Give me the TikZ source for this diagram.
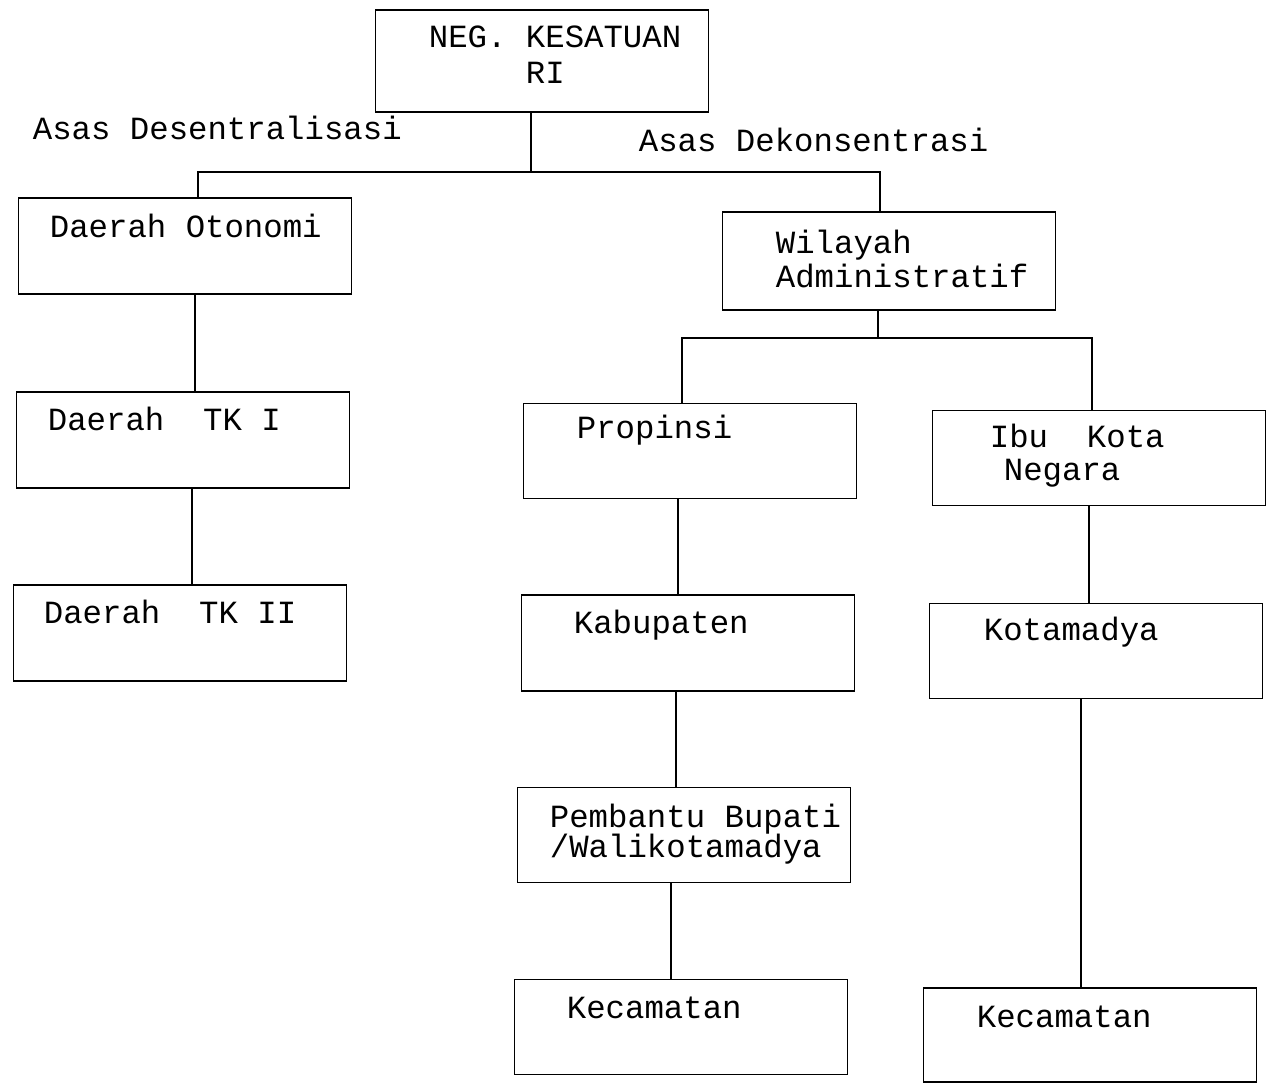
\documentclass[tikz,border=0pt]{standalone}
\usepackage{fontspec}
\setmainfont{Liberation Mono}
\usepackage{tikz}

\begin{document}
\begin{tikzpicture}[x=0.01cm, y=-0.01cm, line width=0.5pt,
    box/.style={draw, minimum width=3.33cm, minimum height=0.96cm, inner sep=0pt},
    txt/.style={anchor=base west, inner sep=0pt, font=\fontsize{9.2}{11}\selectfont}]
\useasboundingbox (0,0) rectangle (1266,1083);
% top
\node[box, minimum height=1.02cm] (neg) at (542,61) {};
\node[txt] (neg-a) at (428,48) {NEG. KESATUAN};
\node[txt] (neg-b) at (525,84) {RI};
\node[txt] (desentral) at (32,140) {Asas Desentralisasi};
\node[txt] (dekonsen) at (638,152) {Asas Dekonsentrasi};
% left branch
\node[box] (otonomi) at (185,246) {};
\node[txt] (otonomi-a) at (49,238) {Daerah Otonomi};
\node[box] (tkI) at (183,440) {};
\node[txt] (tkI-a) at (47,431) {Daerah\ \ TK I};
\node[box] (tkII) at (180,633) {};
\node[txt] (tkII-a) at (43,624) {Daerah\ \ TK II};
% right branch
\node[box, minimum height=0.98cm] (wilayah) at (889,261) {};
\node[txt] (wilayah-a) at (775,254) {Wilayah};
\node[txt] (wilayah-b) at (775,288) {Administratif};
\node[box, minimum height=0.95cm] (propinsi) at (690,451) {};
\node[txt] (propinsi-a) at (576,439) {Propinsi};
\node[box, minimum height=0.95cm] (ibukota) at (1099,458) {};
\node[txt] (ibukota-a) at (989,448) {Ibu\ \ Kota};
\node[txt] (ibukota-b) at (1003,481) {Negara};
\node[box] (kabupaten) at (688,643) {};
\node[txt] (kabupaten-a) at (573,634) {Kabupaten};
\node[box, minimum height=0.95cm] (kotamadya) at (1096,651) {};
\node[txt] (kotamadya-a) at (983,641) {Kotamadya};
\node[box, minimum height=0.95cm] (pembantu) at (684,835) {};
\node[txt] (pembantu-a) at (549,828) {Pembantu Bupati};
\node[txt] (pembantu-b) at (549,858) {/Walikotamadya};
\node[box, minimum height=0.95cm] (kecL) at (681,1027) {};
\node[txt] (kecL-a) at (566,1019) {Kecamatan};
\node[box, minimum height=0.94cm] (kecR) at (1090,1035) {};
\node[txt] (kecR-a) at (976,1028) {Kecamatan};

% first bus
\coordinate (busM) at (531,172);
\coordinate (busL) at (198,172);
\coordinate (busR) at (880,172);
\draw (neg.south -| busM) -- (busM);
\draw (otonomi.north -| busL) -- (busL) -- (busR) -- (wilayah.north -| busR);
% second bus
\coordinate (busW) at (878,338);
\coordinate (busP) at (682,338);
\coordinate (busI) at (1092,338);
\draw (wilayah.south -| busW) -- (busW);
\draw (propinsi.north -| busP) -- (busP) -- (busI) -- (ibukota.north -| busI);
% vertical links
\draw (otonomi.south -| 195,0) -- (tkI.north -| 195,0);
\draw (tkI.south -| 192,0) -- (tkII.north -| 192,0);
\draw (propinsi.south -| 678,0) -- (kabupaten.north -| 678,0);
\draw (kabupaten.south -| 676,0) -- (pembantu.north -| 676,0);
\draw (pembantu.south -| 671,0) -- (kecL.north -| 671,0);
\draw (ibukota.south -| 1089,0) -- (kotamadya.north -| 1089,0);
\draw (kotamadya.south -| 1081,0) -- (kecR.north -| 1081,0);
\end{tikzpicture}
\end{document}
